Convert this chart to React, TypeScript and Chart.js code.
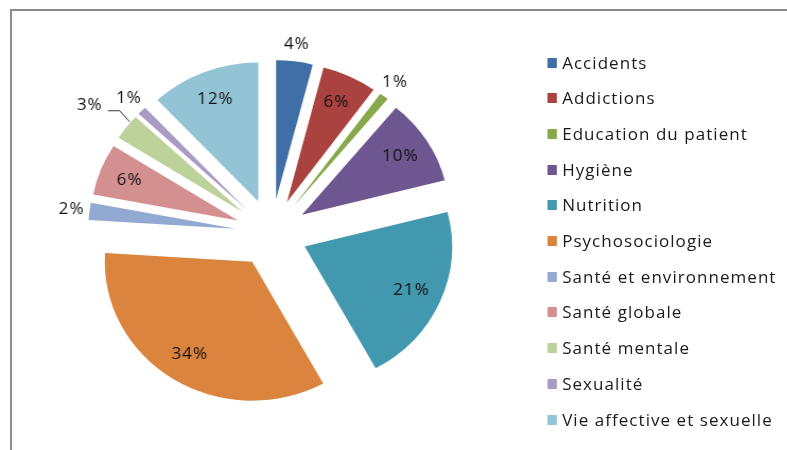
import React, { useEffect, useRef } from 'react';
import { Chart, registerables } from 'chart.js';

Chart.register(...registerables);

const categories = [
  'Accidents',
  'Addictions',
  'Education du patient',
  'Hygiène',
  'Nutrition',
  'Psychosociologie',
  'Santé et environnement',
  'Santé globale',
  'Santé mentale',
  'Sexualité',
  'Vie affective et sexuelle',
];
const shares = [4, 6, 1, 10, 21, 34, 2, 6, 3, 1, 12];
const colors = [
  '#3F6FA6',
  '#AA4340',
  '#87A94B',
  '#6E5690',
  '#4298AE',
  '#DB843D',
  '#92A9D1',
  '#D49090',
  '#BDD19B',
  '#A99BC1',
  '#93C4D6',
];

const INNER_W = 742;
const H = 450;
const STRETCH = 787 / INNER_W;
const EXPLODE = 34;
const FONT = '16px "Open Sans"';
const SPACING = '1px';
const leaderSlices = new Set(['Santé mentale']);

const explodePlugin = {
  id: 'explode',
  afterDatasetUpdate(chart: any, args: any) {
    args.meta.data.forEach((arc: any) => {
      const mid = (arc.startAngle + arc.endAngle) / 2;
      arc.x += Math.cos(mid) * EXPLODE;
      arc.y += Math.sin(mid) * EXPLODE;
    });
  },
};

const labelPlugin = {
  id: 'pieLabels',
  afterDatasetsDraw(chart: any) {
    const ctx = chart.ctx;
    const meta = chart.getDatasetMeta(0);
    const values = chart.data.datasets[0].data as number[];
    const total = values.reduce((a, b) => a + b, 0);
    ctx.save();
    ctx.font = FONT;
    (ctx as any).letterSpacing = SPACING;
    ctx.fillStyle = '#111';
    ctx.strokeStyle = '#333';
    ctx.lineWidth = 1;
    ctx.textBaseline = 'middle';
    meta.data.forEach((arc: any, i: number) => {
      const { x, y, startAngle, endAngle, outerRadius } = arc;
      const mid = (startAngle + endAngle) / 2;
      const dx = Math.cos(mid);
      const dy = Math.sin(mid);
      const pct = Math.round((values[i] / total) * 100);
      const text = pct + '%';
      const name = chart.data.labels[i];
      if (pct >= 5) {
        ctx.textAlign = 'center';
        ctx.fillText(text, x + dx * outerRadius * 0.79, y + dy * outerRadius * 0.79);
      } else if (leaderSlices.has(name)) {
        const a = mid + (endAngle - mid) * 0.45;
        const sx = x + Math.cos(a) * (outerRadius + 1);
        const sy = y + Math.sin(a) * (outerRadius + 1);
        const ex = sx - 9.5;
        const ey = sy - 11;
        ctx.beginPath();
        ctx.moveTo(sx, sy);
        ctx.lineTo(ex, ey);
        ctx.lineTo(ex - 11, ey);
        ctx.stroke();
        ctx.textAlign = 'right';
        ctx.fillText(text, ex - 16, ey - 5);
      } else {
        ctx.textAlign = 'center';
        ctx.fillText(text, x + dx * (outerRadius + 17), y + dy * (outerRadius + 17));
      }
    });
    ctx.restore();
  },
};

export default function App() {
  const canvasRef = useRef<HTMLCanvasElement | null>(null);

  useEffect(() => {
    if (!canvasRef.current) return;
    const chart = new Chart(canvasRef.current, {
      type: 'pie',
      data: {
        labels: categories,
        datasets: [
          {
            data: shares,
            backgroundColor: colors,
            borderWidth: 0,
            radius: 139,
          } as any,
        ],
      },
      options: {
        responsive: false,
        maintainAspectRatio: false,
        animation: false,
        events: [],
        layout: { padding: { left: 0, right: 230, top: 16, bottom: 0 } },
        plugins: {
          legend: { display: false },
          tooltip: { enabled: false },
        },
      } as any,
      plugins: [explodePlugin, labelPlugin],
    });
    return () => chart.destroy();
  }, []);

  return (
    <>
      <div
        style={{
          position: 'absolute',
          left: 10,
          top: 9,
          width: 800,
          height: 460,
          borderTop: '2px solid #8c8c8c',
          borderLeft: '2px solid #8c8c8c',
          boxSizing: 'border-box',
        }}
      />
      <div
        style={{
          position: 'absolute',
          left: 0,
          top: 0,
          width: INNER_W,
          height: H,
          transform: `scaleX(${STRETCH})`,
          transformOrigin: '0 0',
        }}
      >
        <canvas ref={canvasRef} width={INNER_W} height={H} style={{ display: 'block' }} />
        <div style={{ position: 'absolute', left: 515.5, top: 44.8, width: 226 }}>
          {categories.map((c, i) => (
            <div
              key={c}
              style={{ height: 35.7, display: 'flex', alignItems: 'center', whiteSpace: 'nowrap' }}
            >
              <span
                style={{ width: 9.5, height: 10, background: colors[i], marginRight: 5, flex: 'none' }}
              />
              <span style={{ font: FONT, letterSpacing: SPACING, color: '#1a1a1a', lineHeight: '18px' }}>
                {c}
              </span>
            </div>
          ))}
        </div>
      </div>
    </>
  );
}
